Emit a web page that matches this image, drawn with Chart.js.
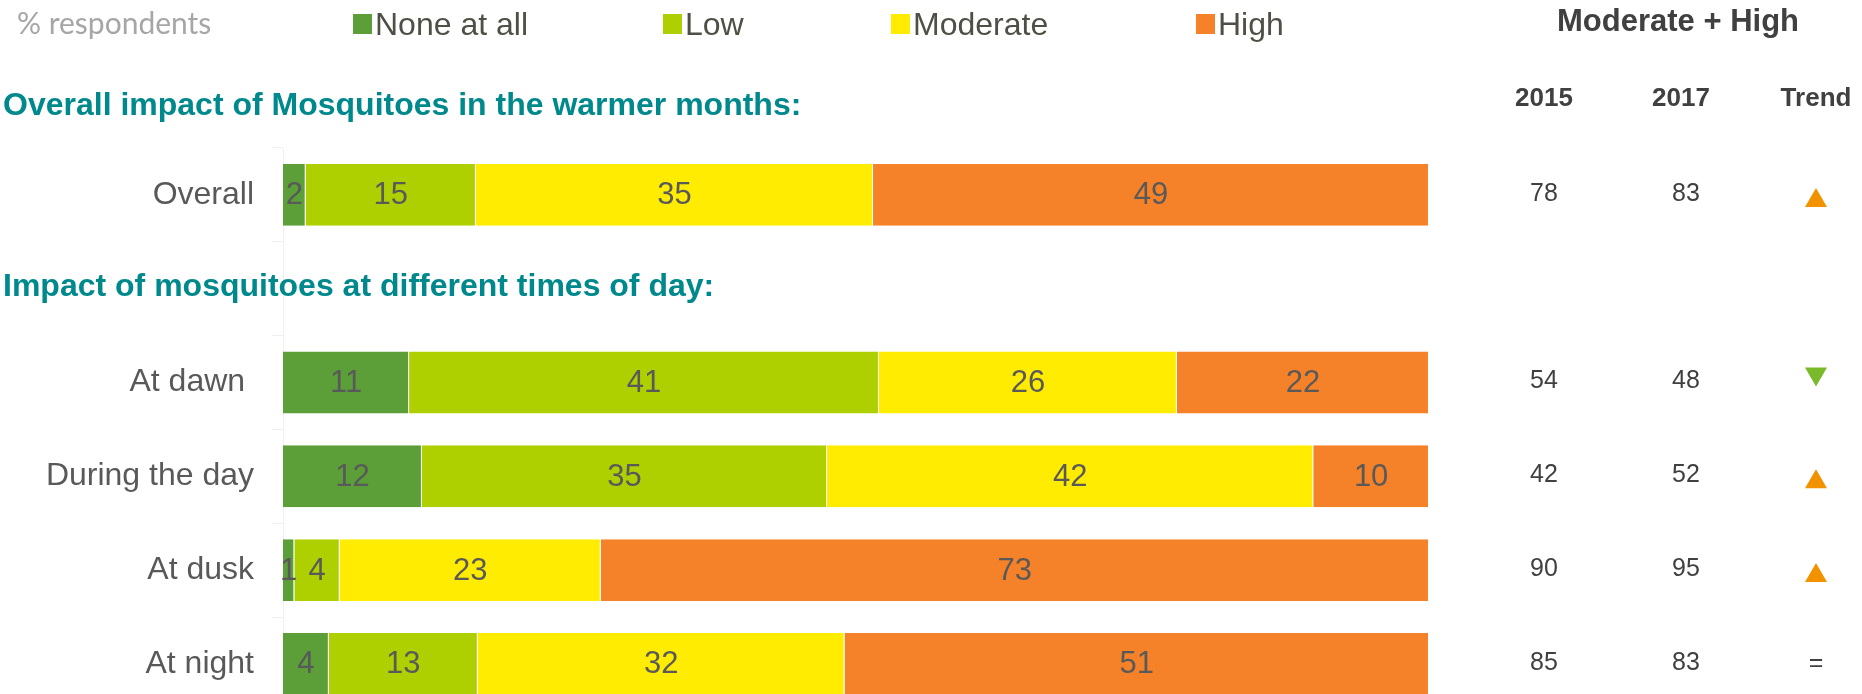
<!DOCTYPE html>
<html lang="en">
<head>
<meta charset="UTF-8">
<title>Impact of mosquitoes</title>
<script src="https://cdn.jsdelivr.net/npm/chart.js"></script>
<style>
  html, body { margin: 0; padding: 0; background: #fff; overflow: hidden; }
  #chart { position: absolute; left: 0; top: 0; }
</style>
</head>
<body>
<canvas id="chart" width="1862" height="748"></canvas>
<script>
// data
const categories = ['Overall', '', 'At dawn ', 'During the day', 'At dusk', 'At night'];
const seriesNames = ['None at all', 'Low', 'Moderate', 'High'];
const seriesColors = ['#5c9f39', '#afd000', '#ffec00', '#f58128'];
const noneAtAll = [2, null, 11, 12, 1, 4];
const low = [15, null, 41, 35, 4, 13];
const moderate = [35, null, 26, 42, 23, 32];
const high = [49, null, 22, 10, 73, 51];
const modHigh2015 = [78, null, 54, 42, 90, 85];
const modHigh2017 = [83, null, 48, 52, 95, 83];
const trend = ['up', null, 'down', 'up', 'up', 'same'];
const tableTitle = 'Moderate + High';
const tableHeaders = ['2015', '2017', 'Trend'];
const sectionTitles = ['Overall impact of Mosquitoes in the warmer months:', 'Impact of mosquitoes at different times of day:'];
const unitLabel = '% respondents';

const FONT = "'Liberation Sans', Arial, sans-serif";
const series = [noneAtAll, low, moderate, high];

// bars are drawn as 100% stacked, labels show the raw numbers
const rowTotals = categories.map((c, i) => series.reduce((s, arr) => s + (arr[i] || 0), 0));

const datasets = series.map((arr, k) => ({
  label: seriesNames[k],
  data: arr.map((v, i) => v == null ? null : v / rowTotals[i] * 100),
  raw: arr,
  backgroundColor: seriesColors[k],
  borderColor: 'rgba(255,255,255,0.25)',
  borderWidth: { left: 0, right: 1, top: 0, bottom: 0 },
  borderSkipped: false,
  barPercentage: 0.66,
  categoryPercentage: 1
}));

const extras = {
  id: 'extras',
  afterDatasetsDraw(chart) {
    const ctx = chart.ctx;
    const yScale = chart.scales.y;
    ctx.save();

    // numbers inside the segments
    ctx.font = '31px ' + FONT;
    ctx.fillStyle = '#595959';
    ctx.textAlign = 'center';
    ctx.textBaseline = 'middle';
    chart.data.datasets.forEach((ds, k) => {
      chart.getDatasetMeta(k).data.forEach((el, i) => {
        const v = ds.raw[i];
        if (v == null) return;
        const p = el.getProps(['x', 'base', 'y'], true);
        ctx.fillText(String(v), (p.x + p.base) / 2, p.y + 1);
      });
    });

    // legend row
    const legendX = [353, 663, 891, 1196];
    ctx.textAlign = 'left';
    ctx.font = '32px ' + FONT;
    chart.data.datasets.forEach((ds, k) => {
      ctx.fillStyle = ds.backgroundColor;
      ctx.fillRect(legendX[k], 14, 19, 20);
      ctx.fillStyle = '#4f4f46';
      ctx.fillText(ds.label, legendX[k] + 22, 26);
    });
    ctx.font = "30px Lato, 'Open Sans', sans-serif";
    ctx.fillStyle = '#a6a6a6';
    ctx.fillText(unitLabel, 17, 24);

    // section titles
    ctx.font = 'bold 32px ' + FONT;
    ctx.fillStyle = '#00898c';
    ctx.fillText(sectionTitles[0], 3, 106);
    ctx.fillText(sectionTitles[1], 3, 287);

    // table on the right
    const colX = [1544, 1686, 1816];
    ctx.textAlign = 'center';
    ctx.fillStyle = '#404040';
    ctx.font = 'bold 31px ' + FONT;
    ctx.fillText(tableTitle, 1678, 22);
    ctx.font = 'bold 26px ' + FONT;
    ctx.fillText(tableHeaders[0], colX[0], 99);
    ctx.fillText(tableHeaders[1], 1681, 99);
    ctx.fillText(tableHeaders[2], colX[2], 99);

    ctx.font = '25px ' + FONT;
    categories.forEach((c, i) => {
      const y = yScale.getPixelForValue(i);
      if (modHigh2015[i] != null) ctx.fillText(String(modHigh2015[i]), colX[0], y - 1);
      if (modHigh2017[i] != null) ctx.fillText(String(modHigh2017[i]), colX[1], y - 1);
      const t = trend[i];
      const tx = colX[2];
      if (t === 'up') {
        ctx.fillStyle = '#f39200';
        ctx.beginPath();
        ctx.moveTo(tx, y - 7); ctx.lineTo(tx + 11, y + 12); ctx.lineTo(tx - 11, y + 12);
        ctx.closePath(); ctx.fill();
      } else if (t === 'down') {
        ctx.fillStyle = '#7ab929';
        ctx.beginPath();
        ctx.moveTo(tx - 11, y - 15); ctx.lineTo(tx + 11, y - 15); ctx.lineTo(tx, y + 4);
        ctx.closePath(); ctx.fill();
      } else if (t === 'same') {
        ctx.fillStyle = '#404040';
        ctx.fillText('=', tx, y);
      }
      ctx.fillStyle = '#404040';
    });
    ctx.restore();
  }
};

new Chart(document.getElementById('chart'), {
  type: 'bar',
  data: { labels: categories, datasets: datasets },
  options: {
    indexAxis: 'y',
    responsive: false,
    animation: false,
    layout: { padding: { top: 148, bottom: 11, left: 0, right: 433 } },
    plugins: { legend: { display: false }, tooltip: { enabled: false } },
    scales: {
      x: { stacked: true, min: 0, max: 100, display: false },
      y: {
        stacked: true,
        afterFit(scale) { scale.width = 283; },
        border: { display: true, color: '#f0f0f0' },
        grid: { drawOnChartArea: false, tickLength: 11, color: '#f0f0f0', offset: true },
        ticks: { color: '#595959', font: { family: FONT, size: 32 }, padding: 18 }
      }
    }
  },
  plugins: [extras]
});
</script>
</body>
</html>
